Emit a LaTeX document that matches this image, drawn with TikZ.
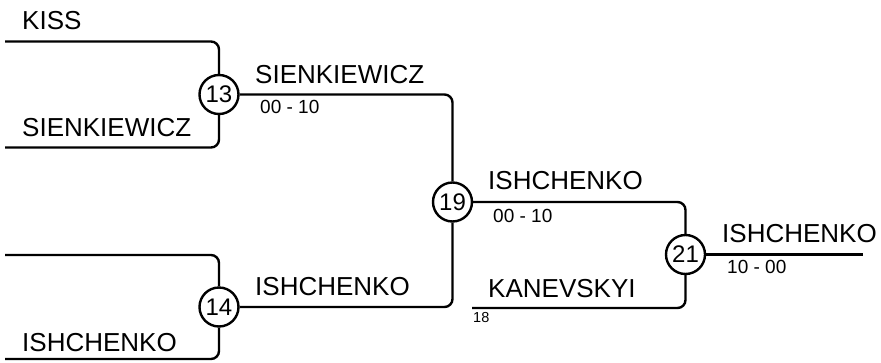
\documentclass[tikz,border=0pt]{standalone}
\usepackage{fontspec}
\setmainfont{Liberation Sans}
\begin{document}
\begin{tikzpicture}[x=1pt,y=-1pt,
  wire/.style={line width=2.4pt,rounded corners=8pt},
  mcirc/.style={circle,draw,line width=2.4pt,fill=white,minimum size=39pt,inner sep=0pt,font=\fontsize{24}{28}\selectfont},
  plabel/.style={anchor=base west,inner sep=0pt,font=\fontsize{26}{30}\selectfont},
  pscore/.style={anchor=base west,inner sep=0pt,font=\fontsize{19}{22}\selectfont},
  pseed/.style={anchor=base west,inner sep=0pt,font=\fontsize{14.5}{17}\selectfont}]
\useasboundingbox (0,0) rectangle (881,362);
% match circles
\node[mcirc] (c13) at (219,94.5) {13};
\node[mcirc] (c14) at (219,307) {14};
\node[mcirc] (c19) at (452.5,202) {19};
\node[mcirc] (c21) at (685.5,254.5) {21};
% free ends
\coordinate (a1) at (5,41.5);
\coordinate (a2) at (5,147.5);
\coordinate (b1) at (5,255);
\coordinate (b2) at (5,359);
\coordinate (kv) at (472,308);
\coordinate (fin) at (863,254.5);
% connectors
\draw[wire] (a1) -| (c13);
\draw[wire] (a2) -| (c13);
\draw[wire] (b1) -| (c14);
\draw[wire] (b2) -| (c14);
\draw[wire] (c13) -| (c19);
\draw[wire] (c14) -| (c19);
\draw[wire] (c19) -| (c21);
\draw[wire] (kv) -| (c21);
\draw[wire] (c21) -- (fin);
% labels
\node[plabel] (t1) at (22,29) {KISS};
\node[plabel] (t2) at (22,136.5) {SIENKIEWICZ};
\node[plabel] (t3) at (22,351.5) {ISHCHENKO};
\node[plabel] (t4) at (255,83) {SIENKIEWICZ};
\node[pscore] (s4) at (260,113) {00 - 10};
\node[plabel] (t5) at (255,295) {ISHCHENKO};
\node[plabel] (t6) at (488,189.5) {ISHCHENKO};
\node[pscore] (s6) at (493,222.5) {00 - 10};
\node[plabel] (t7) at (488,297) {KANEVSKYI};
\node[pseed] (s7) at (473,322.5) {18};
\node[plabel] (t8) at (722,242) {ISHCHENKO};
\node[pscore] (s8) at (727,273) {10 - 00};
\end{tikzpicture}
\end{document}
